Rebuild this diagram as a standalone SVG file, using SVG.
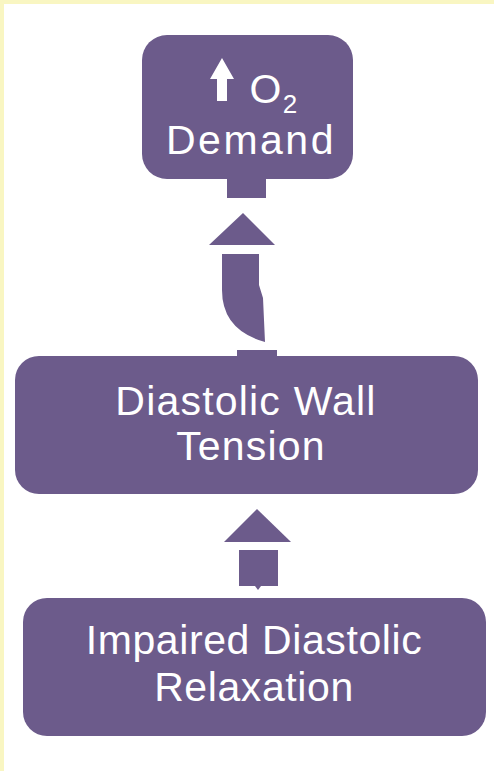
<svg xmlns="http://www.w3.org/2000/svg" width="494" height="771" viewBox="0 0 494 771">
<style>
.box{fill:#6c5b8b;}
.shape{fill:#6c5b8b;}
.lbl{font-family:"Liberation Sans",Arial,sans-serif;font-size:41px;fill:#ffffff;text-anchor:middle;letter-spacing:1.2px;}
</style>
<rect x="0" y="0" width="494" height="771" fill="#ffffff"/>
<rect x="0" y="0" width="494" height="4" fill="#f9f6c2"/>
<rect x="0" y="0" width="4" height="771" fill="#f9f6c2"/>
<g id="connectors">
  <g id="arrow-upper">
    <rect class="shape" x="227" y="176" width="39" height="22"/>
    <polygon class="shape" points="243,213 209,245 275,245"/>
    <path class="shape" d="M222,254 L259,254 L259,285 L263,298 L265,342 Q222,330 222,290 Z"/>
    <rect class="shape" x="237" y="350" width="40" height="10"/>
  </g>
  <g id="arrow-lower">
    <polygon class="shape" points="257,509 224,542 291,542"/>
    <path class="shape" d="M239,550 L278,550 L278,586 L261,586 L258,590 L255,586 L239,586 Z"/>
  </g>
</g>
<g id="node-o2-demand">
  <rect class="box" x="142" y="35" width="211" height="144" rx="25" ry="25"/>
  <path fill="#ffffff" d="M222,58 L234,79 L227,79 L227,101 L217,101 L217,79 L210,79 Z"/>
  <text class="lbl" x="274" y="103">O<tspan font-size="26" dy="10">2</tspan></text>
  <text class="lbl" x="251" y="154" style="letter-spacing:2.5px">Demand</text>
</g>
<g id="node-wall-tension">
  <rect class="box" x="15" y="356" width="463" height="138" rx="24" ry="24"/>
  <text class="lbl" x="246" y="415">Diastolic Wall</text>
  <text class="lbl" x="251" y="460">Tension</text>
</g>
<g id="node-impaired-relaxation">
  <rect class="box" x="23" y="598" width="463" height="138" rx="24" ry="24"/>
  <text class="lbl" x="254" y="654" style="letter-spacing:0.6px">Impaired Diastolic</text>
  <text class="lbl" x="254" y="701" style="letter-spacing:0.6px">Relaxation</text>
</g>
</svg>
